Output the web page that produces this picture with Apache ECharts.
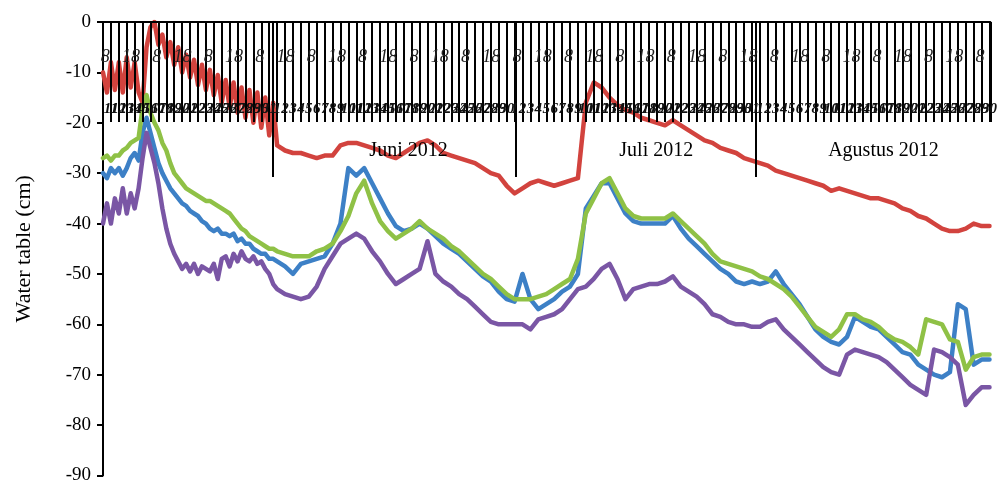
<!DOCTYPE html>
<html>
<head>
<meta charset="utf-8">
<script src="https://cdn.jsdelivr.net/npm/echarts@6/dist/echarts.min.js"></script>
<style>
    html, body { margin: 0; padding: 0; background: #fff; }
    #chart { width: 1000px; height: 485px; }
</style>
</head>
<body>
<div id="chart"></div>
<script>
// water table readings, 10 May - 31 Aug 2012
// first 22 days are read twice a day, after that once a day
const redValues = [
    -10, -14, -8, -13.5,
    -8, -14, -7, -13, -8, -14, -16, -5, -1, 0,
    -4.5, -2.5, -7, -4, -8.5, -5, -10, -6.5, -11, -7.5,
    -12.5, -8.5, -13.5, -9.5, -14.5, -10.5, -16, -11.5, -17, -12,
    -18, -13, -19, -13.5, -20, -14, -21, -15, -22.5, -16, -24.5,
    -25.5, -26, -26, -26.5, -27, -26.5, -26.5, -24.5, -24, -24,
    -24.5, -25, -25.5, -26.5, -27, -26, -25, -24, -23.5, -24.5,
    -26, -26.5, -27, -27.5, -28, -29, -30, -30.5, -32.5, -34,
    -33, -32, -31.5, -32, -32.5, -32, -31.5, -31, -16, -12,
    -13, -15, -16.5, -17.5, -18, -19, -19.5, -20, -20.5, -19.5,
    -20.5, -21.5, -22.5, -23.5, -24, -25, -25.5, -26, -27, -27.5,
    -28, -28.5, -29.5, -30, -30.5, -31, -31.5, -32, -32.5, -33.5,
    -33, -33.5, -34, -34.5, -35, -35, -35.5, -36, -37, -37.5,
    -38.5, -39, -40, -41, -41.5, -41.5, -41, -40, -40.5, -40.5
];
const blueValues = [
    -30, -31, -29, -30,
    -29, -30.5, -29, -27, -26, -27.5, -22, -19, -22, -25,
    -28, -30, -31.5, -33, -34, -35, -36, -36.5, -37.5, -38,
    -38.5, -39.5, -40, -41, -41.5, -41, -42, -42, -42.5, -42,
    -43.5, -43, -44, -44, -45, -45.5, -46, -46, -47, -47, -47.5,
    -48.5, -50, -48, -47.5, -47, -46.5, -44, -40, -29, -30.5,
    -29, -32, -35, -38, -40.5, -41.5, -41, -40, -41, -42.5,
    -44, -45, -46, -47.5, -49, -50.5, -51.5, -53.5, -55, -55.5,
    -50, -55, -57, -56, -55, -53.5, -52.5, -50, -37, -34.5,
    -32, -32, -35, -38, -39.5, -40, -40, -40, -40, -38.5,
    -41, -43, -44.5, -46, -47.5, -49, -50, -51.5, -52, -51.5,
    -52, -51.5, -49.5, -52, -54, -56, -58.5, -61, -62.5, -63.5,
    -64, -62.5, -58.5, -59.5, -60.5, -61, -62.5, -64, -65.5, -66,
    -68, -69, -70, -70.5, -69.5, -56, -57, -68, -67, -67
];
const greenValues = [
    -27, -26.5, -27.5, -26.5,
    -26.5, -25.5, -25, -24, -23.5, -23, -17, -14.5, -18, -20,
    -21.5, -24, -25.5, -28, -30, -31, -32, -33, -33.5, -34,
    -34.5, -35, -35.5, -35.5, -36, -36.5, -37, -37.5, -38, -39,
    -40, -41, -41.5, -42.5, -43, -43.5, -44, -44.5, -45, -45, -45.5,
    -46, -46.5, -46.5, -46.5, -45.5, -45, -44, -41.5, -38.5, -34,
    -31.5, -36, -39.5, -41.5, -43, -42, -41, -39.5, -41, -42,
    -43, -44.5, -45.5, -47, -48.5, -50, -51, -52.5, -54, -55,
    -55, -55, -54.5, -54, -53, -52, -51, -47, -38, -35,
    -32, -31, -34, -37, -38.5, -39, -39, -39, -39, -38,
    -39.5, -41, -42.5, -44, -46, -47.5, -48, -48.5, -49, -49.5,
    -50.5, -51, -52, -53, -54.5, -56.5, -58.5, -60.5, -61.5, -62.5,
    -61, -58, -58, -59, -59.5, -60.5, -62, -63, -63.5, -64.5,
    -66, -59, -59.5, -60, -63, -63.5, -69, -66.5, -66, -66
];
const purpleValues = [
    -40, -36, -40, -35,
    -38, -33, -38, -34, -37, -33, -27, -22, -25, -28,
    -32, -37, -41, -44, -46, -47.5, -49, -48, -49.5, -48,
    -50, -48.5, -49, -49.5, -48, -51, -47, -46.5, -48.5, -46,
    -47.5, -45.5, -47, -47.5, -46.5, -48, -47.5, -49, -50, -52, -53,
    -54, -54.5, -55, -54.5, -52.5, -49, -46.5, -44, -43, -42,
    -43, -45.5, -47.5, -50, -52, -51, -50, -49, -43.5, -50,
    -51.5, -52.5, -54, -55, -56.5, -58, -59.5, -60, -60, -60,
    -60, -61, -59, -58.5, -58, -57, -55, -53, -52.5, -51,
    -49, -48, -51, -55, -53, -52.5, -52, -52, -51.5, -50.5,
    -52.5, -53.5, -54.5, -56, -58, -58.5, -59.5, -60, -60, -60.5,
    -60.5, -59.5, -59, -61, -62.5, -64, -65.5, -67, -68.5, -69.5,
    -70, -66, -65, -65.5, -66, -66.5, -67.5, -69, -70.5, -72,
    -73, -74, -65, -65.5, -66.5, -68, -76, -74, -72.5, -72.5
];

const monthNames = ['Juni 2012', 'Juli 2012', 'Agustus 2012'];
const monthStarts = [21.5, 52.1, 82.5];   // day index of 1 Jun, 1 Jul, 1 Aug
const monthCenters = [38.6, 69.9, 98.6];
const hourLabels = ['8', '18'];

// day index of each reading (0 = 10 May)
const days = [];
for (let i = 0; i <= 44; i++) days.push(i * 0.5);
for (let d = 23; d <= 112; d++) days.push(d);

const hourPositions = [];
for (let v = 0.3; v < 112; v += 3.25) hourPositions.push(+v.toFixed(2));

const dayOfMonth = (d) => new Date(2012, 4, 10 + d).getDate();

const serif = 'Liberation Serif';
const xMin = 0, xMax = 112.1;

const line = (name, values, color) => ({
    name: name,
    type: 'line',
    xAxisIndex: 0,
    showSymbol: false,
    silent: true,
    lineStyle: {width: 4.5, color: color, join: 'round', cap: 'round'},
    itemStyle: {color: color},
    data: days.map((t, i) => [t, values[i]])
});

const chart = echarts.init(document.getElementById('chart'));
chart.setOption({
    animation: false,
    grid: {left: 103, right: 0, top: 22, bottom: 8},
    xAxis: [
        {
            type: 'value', position: 'top', min: xMin, max: xMax, interval: 1, z: 5,
            axisLine: {show: true, onZero: false, lineStyle: {color: '#000', width: 2}},
            axisTick: {show: true, inside: true, length: 100, lineStyle: {color: '#000', width: 2}},
            axisLabel: {
                inside: true, margin: 80, fontFamily: serif, fontStyle: 'italic', fontWeight: 'bold',
                fontSize: 15, color: '#111',
                formatter: (v) => Number.isInteger(v) ? String(dayOfMonth(v)) : ''
            },
            splitLine: {show: false}
        },
        {
            type: 'value', position: 'top', min: xMin, max: xMax, z: 5,
            axisLine: {show: false}, axisTick: {show: false}, splitLine: {show: false},
            axisLabel: {
                inside: true, margin: 26, customValues: hourPositions,
                fontFamily: serif, fontStyle: 'italic', fontSize: 18, color: '#222',
                formatter: (v) => hourLabels[Math.round((v - 0.3) / 3.25) % 2]
            }
        },
        {
            type: 'value', position: 'top', min: xMin, max: xMax, z: 5,
            axisLine: {show: false}, splitLine: {show: false},
            axisTick: {
                show: true, inside: true, length: 155, customValues: monthStarts,
                lineStyle: {color: '#000', width: 2}
            },
            axisLabel: {
                inside: true, margin: 119, customValues: monthCenters,
                fontFamily: serif, fontSize: 20, color: '#000',
                formatter: (v) => monthNames[monthCenters.indexOf(v)]
            }
        }
    ],
    yAxis: {
        type: 'value', min: -90, max: 0, interval: 10,
        name: 'Water table (cm)', nameLocation: 'middle', nameGap: 68,
        nameTextStyle: {fontFamily: serif, fontSize: 22, color: '#000'},
        axisLine: {show: true, onZero: false, lineStyle: {color: '#000', width: 2}},
        axisTick: {show: true, length: 6, lineStyle: {color: '#000', width: 2}},
        axisLabel: {margin: 12, fontFamily: serif, fontSize: 19, color: '#000'},
        splitLine: {show: false}
    },
    series: [
        line('red', redValues, '#d2433e'),
        line('blue', blueValues, '#3d80c6'),
        line('purple', purpleValues, '#7a56a5'),
        line('green', greenValues, '#8fc146')
    ]
});
</script>
</body>
</html>
